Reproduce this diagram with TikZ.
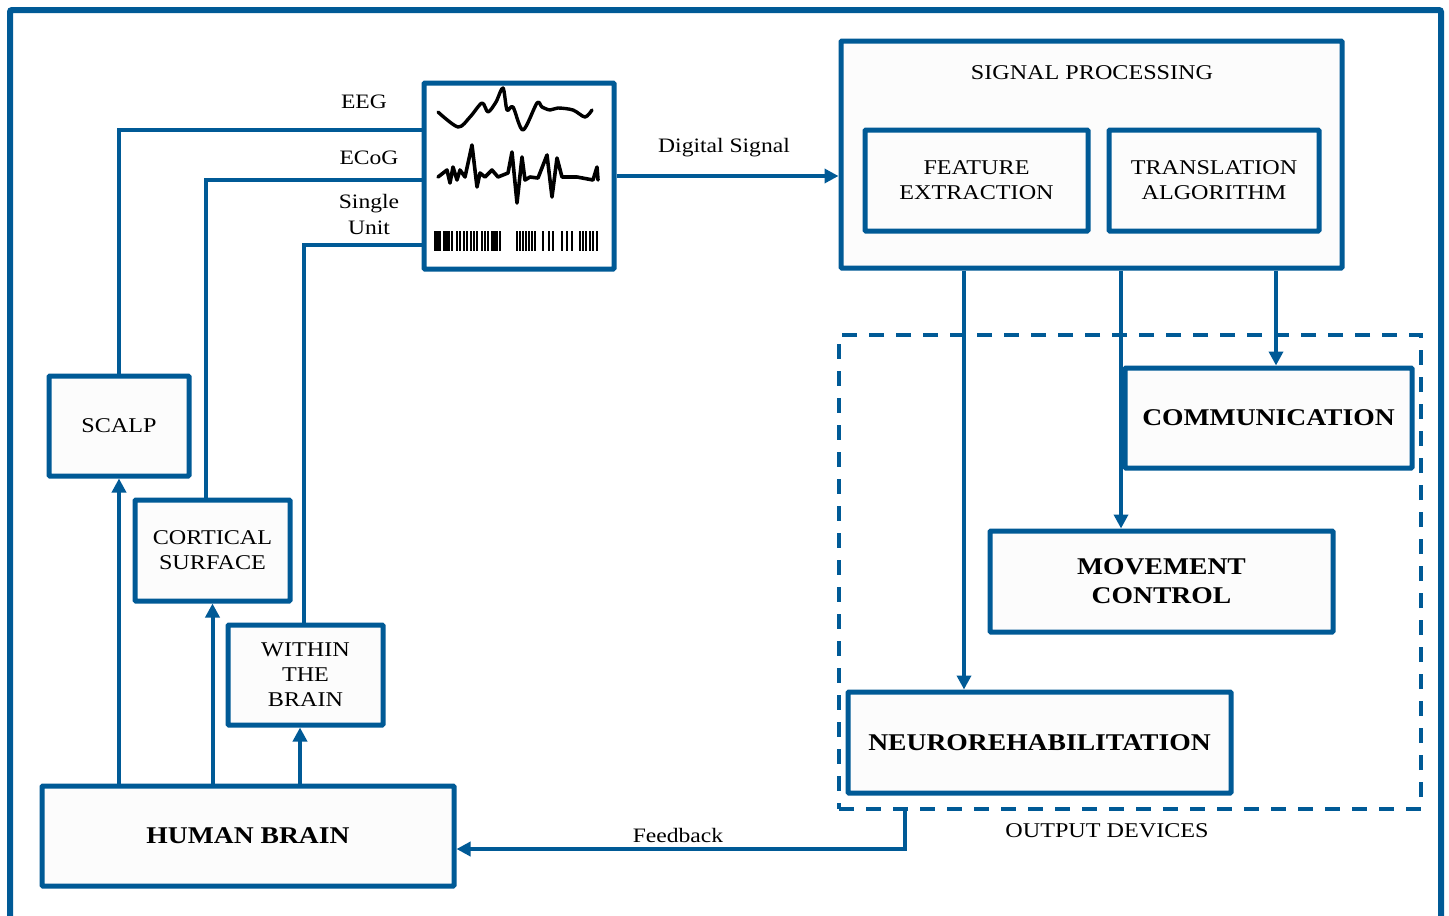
\documentclass[tikz,border=0pt]{standalone}
\usepackage{fontspec}
\setmainfont{Liberation Serif}[FakeStretch=1.15]
\usetikzlibrary{arrows.meta,calc}
\definecolor{bcblue}{RGB}{0,90,150}
\definecolor{boxfill}{RGB}{252,252,252}
\tikzset{
  box/.style={draw=bcblue, line width=5pt, fill=boxfill, rounded corners=1pt, align=center, inner sep=0pt},
  conn/.style={draw=bcblue, line width=4pt},
  arr/.style={conn, -{Triangle[width=14pt,length=14pt]}},
  rtxt/.style={font=\fontsize{21}{25}\selectfont, align=center, inner sep=0pt},
  btxt/.style={font=\fontsize{24}{29}\selectfont\bfseries, align=center},
  lbl/.style={font=\fontsize{20.5}{25}\selectfont, align=center, inner sep=0pt},
  wave/.style={draw=black, line width=3.4pt, line join=round, line cap=round},
}
\begin{document}
\begin{tikzpicture}[x=1pt,y=-1pt]
\useasboundingbox (0,0) rectangle (1449,916);
\fill[white] (0,0) rectangle (1449,916);
% outer frame
\draw[bcblue, line width=6pt, rounded corners=2pt] (10,920) -- (10,10) -- (1441,10) -- (1441,920);

% signal image
\node[box, fill=white, minimum width=190pt, minimum height=186pt] (sig) at (519,176) {};
\draw[wave] plot[smooth, tension=0.5] coordinates {(438,112) (458,127) (470,117) (482,103) (488,112) (496,102) (503,88) (507,110) (513,107) (523,130) (537,103) (542,107) (550,110) (558,108) (573,110) (585,117) (592,110)};
\draw[wave, line width=3.6pt] (438,177) -- (447,170) -- (450,183) -- (453,167) -- (457,180) -- (460,170) -- (465,177) -- (472,145) -- (477,187) -- (480,173) -- (485,177) -- (492,170) -- (498,177) -- (508,173) -- (512,152) -- (517,203) -- (522,157) -- (525,180) -- (530,177) -- (538,178) -- (547,155) -- (552,197) -- (557,158) -- (562,177) -- (577,177) -- (593,180) -- (597,167) -- (598,180);
\foreach \bx in {435,437.5,440,444,446.5,449,452, 457,460,464,467,471,474,477, 482,485,488,492,494.5,497,500, 517,520,523,526,529,532,535, 543,549,553, 562,567,572, 580,583,586,590,593,597}
  \draw[black, line width=2.2pt] (\bx,231) -- (\bx,251);

% signal processing
\node[box, minimum width=501pt, minimum height=227pt] (sp) at (1091.5,154.5) {};
\node[rtxt] (sptitle) at (1092,73) {SIGNAL PROCESSING};
\node[box, rtxt, minimum width=223pt, minimum height=101pt] (fe) at (976.5,180.5) {FEATURE\\EXTRACTION};
\node[box, rtxt, minimum width=210pt, minimum height=101pt] (ta) at (1214,180.5) {TRANSLATION\\ALGORITHM};

% left boxes
\node[box, rtxt, minimum width=140pt, minimum height=100pt] (scalp) at (119,426) {SCALP};
\node[box, rtxt, minimum width=155pt, minimum height=101pt] (cort) at (212.5,550.5) {CORTICAL\\SURFACE};
\node[box, rtxt, minimum width=155pt, minimum height=100pt] (within) at (305.5,675) {WITHIN\\THE\\BRAIN};
\node[box, btxt, minimum width=412pt, minimum height=100pt] (hb) at (248,836) {HUMAN BRAIN};

% output devices
\node[draw=bcblue, line width=3.5pt, dash pattern=on 15pt off 12pt, minimum width=582pt, minimum height=474pt, inner sep=0pt] (out) at (1130,572) {};
\node[rtxt] (outlbl) at (1107,831) {OUTPUT DEVICES};
\node[box, btxt, minimum width=287pt, minimum height=100pt] (comm) at (1268.5,418) {COMMUNICATION};
\node[box, btxt, minimum width=343pt, minimum height=101pt] (move) at (1161.5,581.5) {MOVEMENT\\CONTROL};
\node[box, btxt, minimum width=383pt, minimum height=101pt] (neuro) at (1039.5,742.5) {NEUROREHABILITATION};

% acquisition lines
\draw[conn] ([yshift=46pt]sig.west) -| (scalp.north);
\draw[conn] ([yshift=-4pt]sig.west) -| ([xshift=-6.5pt]cort.north);
\draw[conn] ([yshift=-69pt]sig.west) -| ([xshift=-1.5pt]within.north);
\node[lbl] (eeg) at (364,102) {EEG};
\node[lbl] (ecog) at (369,158) {ECoG};
\node[lbl] (su) at (369,214) {Single\\[1pt]Unit};

% brain arrows
\draw[arr] (hb.north -| scalp.south) -- (scalp.south);
\draw[arr] (hb.north -| cort.south) -- (cort.south);
\draw[arr] ([xshift=-5.5pt]hb.north -| within.south) -- ([xshift=-5.5pt]within.south);

% digital signal
\draw[arr] (sig.east) -- (sig.east -| sp.west);
\node[lbl] (dsl) at (724,148) {Digital Signal};

% processing to devices
\draw[arr] (sp.south -| 964,0) -- (neuro.north -| 964,0);
\draw[arr] (sp.south -| 1121,0) -- (move.north -| 1121,0);
\draw[arr] (sp.south -| 1276,0) -- (comm.north -| 1276,0);

% feedback
\draw[arr] (out.south -| 905,0) |- ([yshift=-13pt]hb.east);
\node[lbl] (fbl) at (678,835) {Feedback};
\end{tikzpicture}
\end{document}
